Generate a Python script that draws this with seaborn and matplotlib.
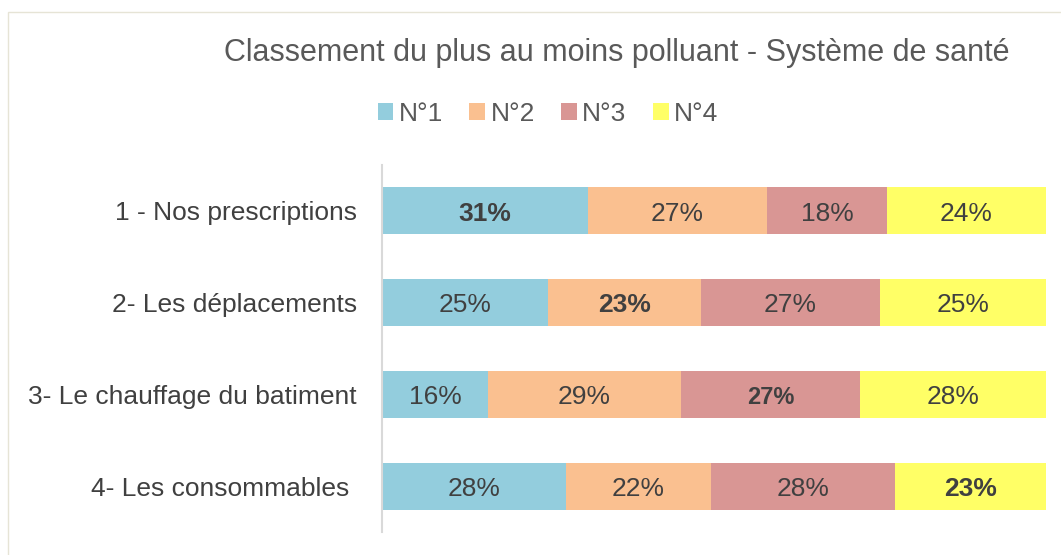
import numpy as np
import pandas as pd
import matplotlib
matplotlib.use("Agg")
import matplotlib.pyplot as plt
from matplotlib.patches import Patch, Rectangle
import seaborn as sns

# Data
categories = ["1 - Nos prescriptions", "2- Les déplacements",
              "3- Le chauffage du batiment", "4- Les consommables "]
ranks = ["N°1", "N°2", "N°3", "N°4"]
n1 = [31, 25, 16, 28]
n2 = [27, 23, 29, 22]
n3 = [18, 27, 27, 28]
n4 = [24, 25, 28, 23]
colors = ["#93CDDD", "#FAC090", "#D99694", "#FFFF66"]

sns.set_theme(style="white")
plt.rcParams["font.family"] = ["Liberation Sans", "DejaVu Sans"]

data = pd.DataFrame({"categorie": categories, "N°1": n1, "N°2": n2, "N°3": n3, "N°4": n4})
vals = data[ranks].to_numpy(dtype=float)
shares = vals / vals.sum(axis=1, keepdims=True)
cum = np.cumsum(shares, axis=1)

fig = plt.figure(figsize=(10.61, 5.55), dpi=100)
ax = fig.add_axes([0.36, 0.0414, 0.6259, 0.6613])

# stacked 100% bars: draw cumulative totals from the last rank back to the first
for k in range(3, -1, -1):
    sns.barplot(x=cum[:, k], y=data["categorie"], color=colors[k], orient="h",
                width=0.51, saturation=1, linewidth=0, ax=ax)

# value labels, bold on the diagonal
for i in range(len(categories)):
    for k in range(4):
        left = cum[i, k] - shares[i, k]
        center = left + shares[i, k] / 2
        bold = (i == k)
        size = 17 if (bold and i == 2) else 19
        ax.text(center, i + 0.03, f"{int(vals[i, k])}%", ha="center", va="center",
                fontsize=size, color="#404040", fontweight="bold" if bold else "normal")

ax.set_xlim(0, 1)
ax.set_xlabel("")
ax.set_ylabel("")
ax.set_xticks([])
ax.tick_params(axis="y", length=0, pad=18, labelsize=19, labelcolor="#404040")
for s in ["top", "right", "bottom"]:
    ax.spines[s].set_visible(False)
ax.spines["left"].set_color("#D9D9D9")
ax.spines["left"].set_linewidth(1.5)

fig.text(0.5815, 0.904, "Classement du plus au moins polluant - Système de santé",
         ha="center", va="center", fontsize=22, color="#595959")

handles = [Patch(facecolor=c, edgecolor="none", label=r) for c, r in zip(colors, ranks)]
fig.legend(handles=handles, loc="center", bbox_to_anchor=(0.5165, 0.7946), ncol=4,
           frameon=False, fontsize=19, handlelength=0.6, handleheight=0.6,
           handletextpad=0.2, columnspacing=1.0, labelcolor="#595959")

# faint chart frame
fig.patches.append(Rectangle((8 / 1061, -0.1), 1.2, 1 - 12 / 555 + 0.1,
                             transform=fig.transFigure, fill=False,
                             edgecolor="#E6E4D6", linewidth=1))

fig.savefig("out.png", dpi=100)
